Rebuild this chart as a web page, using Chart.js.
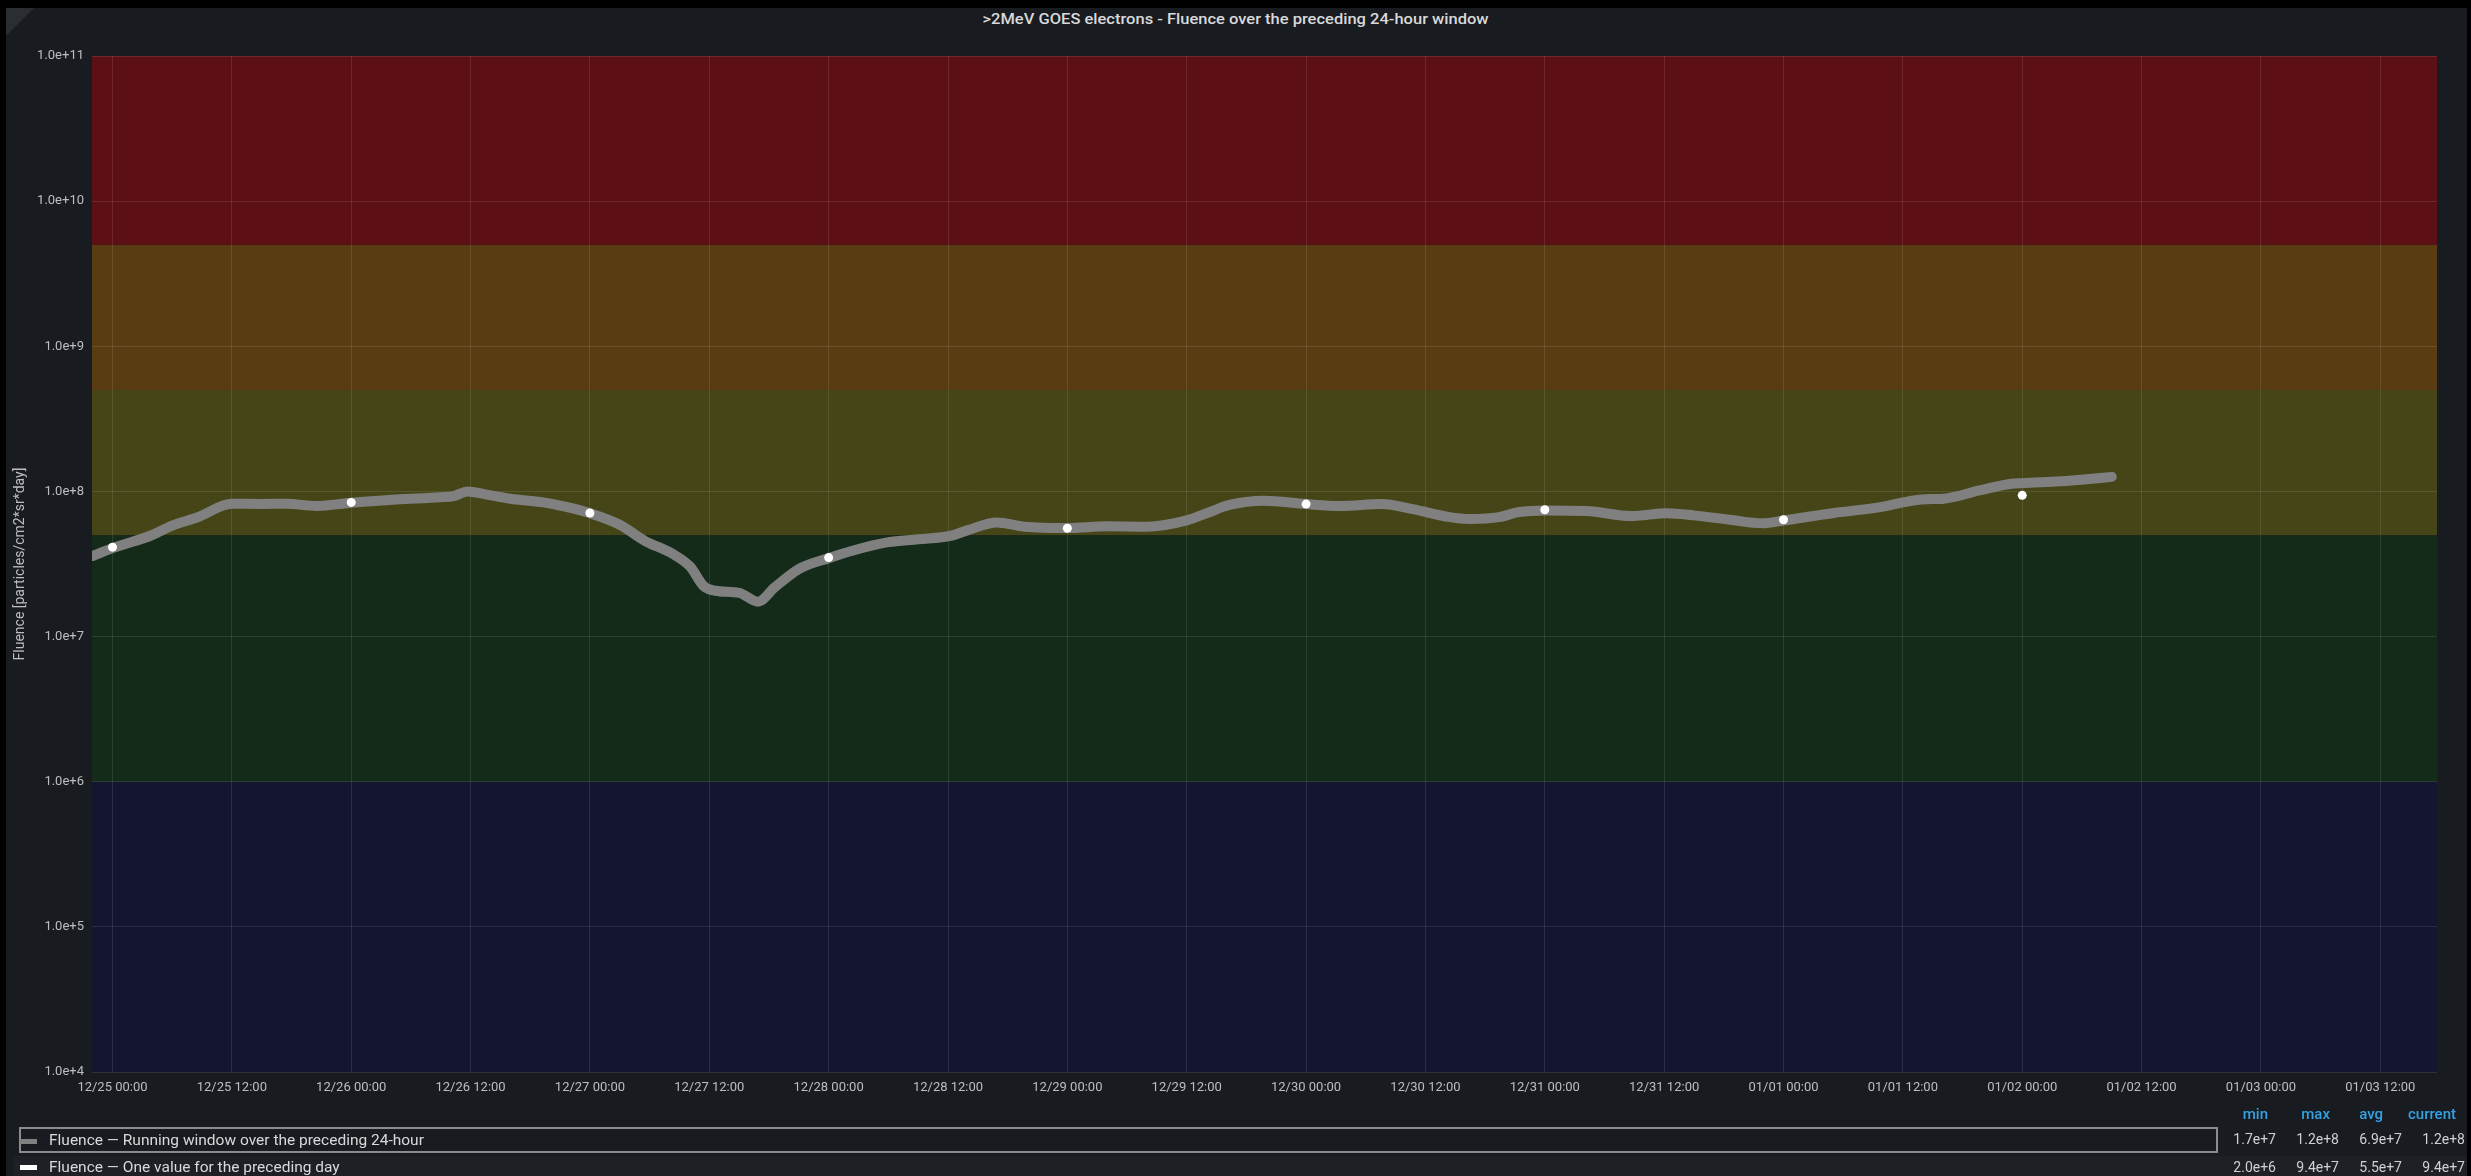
<!DOCTYPE html>
<html>
<head>
<meta charset="utf-8">
<title>GOES electron fluence</title>
<script src="https://cdn.jsdelivr.net/npm/chart.js@4.4.1/dist/chart.umd.min.js"></script>
<style>
    html, body { margin: 0; padding: 0; width: 2471px; height: 1176px; overflow: hidden; background: #000; font-family: Roboto, 'Noto Sans', sans-serif; }
    #panel { position: absolute; left: 6px; top: 8px; width: 2461px; height: 1168px; background: #181b1f; }
    #corner { position: absolute; left: 6px; top: 8px; width: 0; height: 0; border-top: 28px solid #2a2d32; border-right: 28px solid transparent; }
    #title { position: absolute; left: 0; top: 11px; width: 2471px; text-align: center; color: #d8d9da; font-size: 15px; font-weight: 500; line-height: 16px; transform: scaleX(1.1); transform-origin: 1235px 0; }
    #wrap { position: absolute; left: 0; top: 0; width: 2471px; height: 1176px; }
    .lg-box { position: absolute; left: 19px; top: 1127px; width: 2199px; height: 26px; box-sizing: border-box; border: 2px solid #8c8c8c; }
    .lg-row2 { position: absolute; left: 14px; top: 1156px; width: 2453px; height: 20px; background: rgba(255,255,255,0.025); }
    .lg-icon { position: absolute; left: 20px; width: 17px; height: 5px; }
    .lg-text { position: absolute; left: 49px; color: #d8d9da; font-size: 15.5px; line-height: 18px; white-space: nowrap; }
    .st { position: absolute; font-size: 14px; line-height: 16px; white-space: nowrap; text-align: right; }
    .st.head { color: #33a2e5; font-weight: 500; font-size: 15px; }
    .st.val { color: #d0d1d3; }
</style>
</head>
<body>
<div id="panel"></div>
<div id="corner"></div>
<div id="title">&gt;2MeV GOES electrons - Fluence over the preceding 24-hour window</div>
<div class="lg-row2"></div>
<div id="wrap"><canvas id="fluenceChart"></canvas></div>
<div class="lg-box"></div>
<div class="lg-icon" style="top:1139px;background:#808080;"></div>
<div class="lg-text" style="top:1131px;">Fluence — Running window over the preceding 24-hour</div>
<div class="lg-icon" style="top:1165px;background:#ffffff;"></div>
<div class="lg-text" style="top:1158px;">Fluence — One value for the preceding day</div>
<div id="stats"></div>

<script>
// hours since 12/25 00:00
const xMin = -2.06;
const xMax = 233.7;
const xTickHours = [0, 12, 24, 36, 48, 60, 72, 84, 96, 108, 120, 132, 144, 156, 168, 180, 192, 204, 216, 228];
const xTickLabels = ['12/25 00:00', '12/25 12:00', '12/26 00:00', '12/26 12:00', '12/27 00:00', '12/27 12:00',
    '12/28 00:00', '12/28 12:00', '12/29 00:00', '12/29 12:00', '12/30 00:00', '12/30 12:00',
    '12/31 00:00', '12/31 12:00', '01/01 00:00', '01/01 12:00', '01/02 00:00', '01/02 12:00',
    '01/03 00:00', '01/03 12:00'];
const yTicks = [1e4, 1e5, 1e6, 1e7, 1e8, 1e9, 1e10, 1e11];

// running 24-hour window
const runningHours = [-2, 0, 4, 6, 8.5, 12, 15, 17.5, 20.5, 24, 28.5, 33, 34.3, 35.7, 37.5, 40, 43.3, 45.5, 48,
    51, 53.5, 56.3, 58.1, 59.4, 60.6, 63, 64.9, 66.6, 69, 72, 74.3, 78, 81, 84.3, 86, 88.9, 91.7, 96, 100,
    104, 108, 110.2, 112.2, 115.8, 120, 123.5, 127.6, 130.7, 134.3, 136.4, 139.4, 141.4, 144, 148.2, 152.7,
    156.3, 159, 162.6, 165.9, 168, 172.9, 177.4, 181.9, 184.1, 187.7, 190.9, 192, 195.4, 197.6, 201];
const runningFluence = [3.59e7, 4.07e7, 5.01e7, 5.82e7, 6.61e7, 8.22e7, 8.20e7, 8.22e7, 7.94e7, 8.36e7, 8.81e7,
    9.12e7, 9.29e7, 1.0e8, 9.55e7, 8.91e7, 8.41e7, 7.85e7, 7.08e7, 5.89e7, 4.57e7, 3.72e7, 3.02e7, 2.24e7,
    2.07e7, 2.0e7, 1.74e7, 2.19e7, 2.92e7, 3.47e7, 3.89e7, 4.47e7, 4.68e7, 4.95e7, 5.41e7, 6.11e7, 5.71e7,
    5.60e7, 5.75e7, 5.71e7, 6.31e7, 7.16e7, 8.05e7, 8.63e7, 8.18e7, 7.94e7, 8.18e7, 7.55e7, 6.68e7, 6.46e7,
    6.65e7, 7.21e7, 7.40e7, 7.33e7, 6.76e7, 7.08e7, 6.84e7, 6.38e7, 6.03e7, 6.31e7, 7.08e7, 7.73e7, 8.81e7,
    8.91e7, 1.016e8, 1.13e8, 1.14e8, 1.17e8, 1.20e8, 1.26e8];

// one value per day
const dailyHours = [0, 24, 48, 72, 96, 120, 144, 168, 192];
const dailyFluence = [4.13e7, 8.4e7, 7.1e7, 3.5e7, 5.58e7, 8.18e7, 7.48e7, 6.38e7, 9.4e7];

// threshold bands
const bandFrom = [1e4, 1e6, 5e7, 5e8, 5e9];
const bandTo = [1e6, 5e7, 5e8, 5e9, 1e11];
const bandColors = ['#141530', '#152b19', '#454517', '#5a3c13', '#5c1015'];

// legend table
const statHeaders = ['min', 'max', 'avg', 'current'];
const runningStats = ['1.7e+7', '1.2e+8', '6.9e+7', '1.2e+8'];
const dailyStats = ['2.0e+6', '9.4e+7', '5.5e+7', '9.4e+7'];

document.addEventListener('DOMContentLoaded', () => {
    const statsBox = document.getElementById('stats');
    const headRight = [2268, 2330, 2383, 2456];
    const valRight = [2276, 2339, 2402, 2465];
    const addCell = (text, cls, right, top) => {
        const d = document.createElement('div');
        d.className = 'st ' + cls;
        d.textContent = text;
        d.style.right = (2471 - right) + 'px';
        d.style.top = top + 'px';
        statsBox.appendChild(d);
    };
    statHeaders.forEach((t, i) => addCell(t, 'head', headRight[i], 1106));
    runningStats.forEach((t, i) => addCell(t, 'val', valRight[i], 1131));
    dailyStats.forEach((t, i) => addCell(t, 'val', valRight[i], 1159));

    // coloured threshold bands behind the grid
    const bandsPlugin = {
        id: 'bands',
        beforeDraw(chart) {
            const { ctx, chartArea, scales } = chart;
            ctx.save();
            bandFrom.forEach((from, i) => {
                const yTop = scales.y.getPixelForValue(bandTo[i]);
                const yBot = scales.y.getPixelForValue(from);
                ctx.fillStyle = bandColors[i];
                ctx.fillRect(chartArea.left, yTop, chartArea.right - chartArea.left, yBot - yTop);
            });
            ctx.restore();
        }
    };

    const tickFont = { family: 'Roboto', size: 13 };

    new Chart(document.getElementById('fluenceChart'), {
        type: 'line',
        data: {
            datasets: [{
                label: 'Fluence — One value for the preceding day',
                data: dailyHours.map((h, i) => ({ x: h, y: dailyFluence[i] })),
                showLine: false,
                pointRadius: 4.5,
                pointBackgroundColor: '#ffffff',
                pointBorderWidth: 0,
                order: 0
            }, {
                label: 'Fluence — Running window over the preceding 24-hour',
                data: runningHours.map((h, i) => ({ x: h, y: runningFluence[i] })),
                borderColor: '#808080',
                borderWidth: 10,
                borderCapStyle: 'round',
                borderJoinStyle: 'round',
                pointRadius: 0,
                cubicInterpolationMode: 'monotone',
                fill: false,
                order: 1
            }]
        },
        options: {
            responsive: true,
            maintainAspectRatio: false,
            animation: false,
            layout: { padding: { left: 0, top: 56, right: 34, bottom: 74 } },
            plugins: {
                legend: { display: false },
                tooltip: { enabled: false }
            },
            scales: {
                x: {
                    type: 'linear',
                    min: xMin,
                    max: xMax,
                    afterBuildTicks: (s) => { s.ticks = xTickHours.map(v => ({ value: v })); },
                    afterFit: (s) => { s.height = 30; },
                    grid: { color: 'rgba(255,255,255,0.1)', drawTicks: false },
                    border: { display: false },
                    ticks: {
                        autoSkip: false,
                        maxRotation: 0,
                        padding: 8,
                        color: 'rgba(216,217,218,0.85)',
                        font: tickFont,
                        callback: (v) => xTickLabels[xTickHours.indexOf(v)]
                    }
                },
                y: {
                    type: 'logarithmic',
                    min: 1e4,
                    max: 1e11,
                    afterBuildTicks: (s) => { s.ticks = yTicks.map(v => ({ value: v })); },
                    afterFit: (s) => { s.width = 92; },
                    grid: { color: 'rgba(255,255,255,0.1)', drawTicks: false },
                    border: { display: false },
                    ticks: {
                        padding: 8,
                        color: 'rgba(216,217,218,0.85)',
                        font: tickFont,
                        callback: (v) => Number(v).toExponential(1)
                    },
                    title: {
                        display: true,
                        text: 'Fluence [particles/cm2*sr*day]',
                        color: 'rgba(216,217,218,0.85)',
                        font: { family: 'Roboto', size: 14 },
                        padding: { top: 12, bottom: 0 }
                    }
                }
            }
        },
        plugins: [bandsPlugin]
    });
});
</script>
</body>
</html>
